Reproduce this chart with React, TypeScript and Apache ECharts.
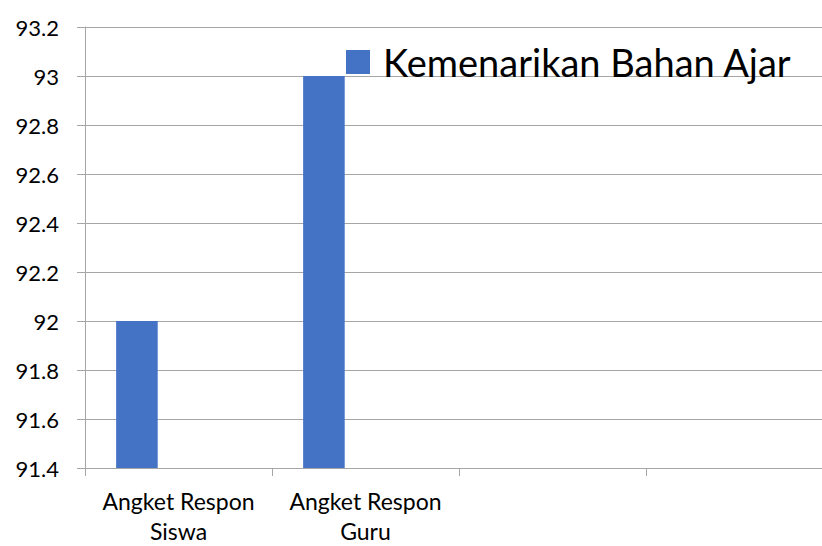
import React, { useEffect, useRef } from "react";
import * as echarts from "echarts";

const categories = ["Angket Respon\nSiswa", "Angket Respon\nGuru", "", ""];
const seriesName = "Kemenarikan Bahan Ajar";
const values = [92, 93, "-", "-"];
const emptySeriesA = ["-", "-", "-", "-"];
const emptySeriesB = ["-", "-", "-", "-"];
const yMin = 91.4;
const yMax = 93.2;
const yStep = 0.2;

export default function App() {
  const ref = useRef<HTMLDivElement>(null);
  useEffect(() => {
    document.body.style.margin = "0";
    const chart = echarts.init(ref.current!, null, { renderer: "svg" });
    const font = "Lato, 'Noto Sans', sans-serif";
    const gridColor = "#a6a6a6";
    chart.setOption({
      animation: false,
      backgroundColor: "#ffffff",
      textStyle: { fontFamily: font },
      legend: {
        data: [seriesName],
        left: 346,
        top: 43,
        itemWidth: 24,
        itemHeight: 24,
        icon: "rect",
        padding: 0,
        textStyle: {
          fontFamily: font,
          fontSize: 38,
          color: "#000",
          padding: [0, 0, 0, 8],
        },
      },
      grid: {
        left: 85,
        top: 27,
        height: 441,
        width: 748,
        containLabel: false,
        outerBoundsMode: "none",
      },
      xAxis: {
        type: "category",
        data: categories,
        axisLine: { show: true, lineStyle: { color: gridColor, width: 1 } },
        axisTick: { show: true, length: 8, lineStyle: { color: gridColor } },
        axisLabel: {
          fontFamily: font,
          fontSize: 23,
          color: "#000",
          lineHeight: 30,
          margin: 18,
          interval: 0,
        },
        splitLine: { show: false },
      },
      yAxis: {
        type: "value",
        min: yMin,
        max: yMax,
        interval: yStep,
        axisLine: { show: true, lineStyle: { color: gridColor, width: 1 } },
        axisTick: { show: true, length: 8, lineStyle: { color: gridColor } },
        axisLabel: {
          fontFamily: font,
          fontSize: 22,
          color: "#000",
          margin: 26,
          formatter: (v: number) => String(parseFloat(v.toFixed(1))),
        },
        splitLine: { show: true, lineStyle: { color: gridColor, width: 1 } },
      },
      series: [
        {
          name: seriesName,
          type: "bar",
          data: values,
          barGap: "0%",
          barCategoryGap: "33.3%",
          itemStyle: { color: "#4472C4" },
        },
        {
          name: "s2",
          type: "bar",
          data: emptySeriesA,
          barGap: "0%",
          barCategoryGap: "33.3%",
          itemStyle: { color: "#ED7D31" },
        },
        {
          name: "s3",
          type: "bar",
          data: emptySeriesB,
          barGap: "0%",
          barCategoryGap: "33.3%",
          itemStyle: { color: "#A5A5A5" },
        },
      ],
    });
    return () => chart.dispose();
  }, []);
  return <div ref={ref} style={{ width: 822, height: 546, position: "absolute", left: 0, top: 0 }} />;
}
